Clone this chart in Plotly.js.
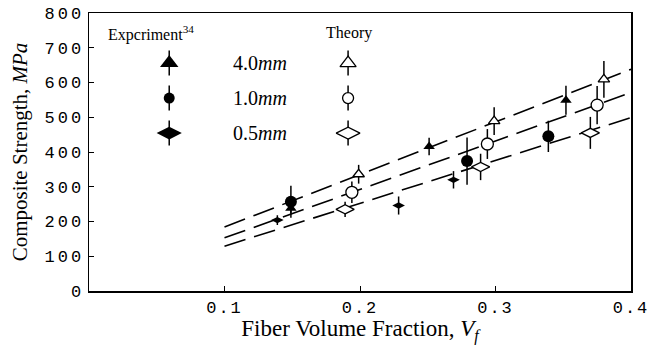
<!DOCTYPE html>
<html>
<head>
<meta charset="utf-8">
<script src="https://cdn.plot.ly/plotly-3.0.1.min.js"></script>
<style>html,body{margin:0;padding:0;background:#fff;}#chart{width:649px;height:345px;}</style>
</head>
<body>
<div id="chart"></div>
<script>
// ---- data ----
const xTickVals = [0.1, 0.2, 0.3, 0.4];
const xTickText = ['0.1', '0.2', '0.3', '0.4'];
const yTickVals = [0, 100, 200, 300, 400, 500, 600, 700, 800];

// theory curves (dashed), endpoints
const curveX = [0.1, 0.4];
const curve40 = [184, 638];
const curve10 = [153, 571];
const curve05 = [129, 499];

// experiment (filled)
const exp40X = [0.149, 0.251, 0.352];
const exp40Y = [238, 416, 549];
const exp40Err = [14, 25, 42];
const exp10X = [0.149, 0.279, 0.339];
const exp10Y = [257, 374, 445];
const exp10Err = [46, 68, 45];
const exp05X = [0.139, 0.2285, 0.269];
const exp05Y = [204, 246, 320];
const exp05Err = [14, 26, 25];

// theory points (open)
const th40X = [0.199, 0.299, 0.380];
const th40Y = [336, 489, 609];
const th40Err = [27, 40, 53];
const th10X = [0.194, 0.294, 0.375];
const th10Y = [284, 423, 535];
const th10Err = [31, 43, 55];
const th05X = [0.189, 0.289, 0.370];
const th05Y = [235, 357, 455];
const th05Err = [22, 38, 46];

const legendLabels = ['4.0<i>mm</i>', '1.0<i>mm</i>', '0.5<i>mm</i>'];

// ---- drawing ----
const black = '#000';
const dash = '22px,9px';
function curve(y) {
  return {x: curveX, y: y, mode: 'lines', type: 'scatter', showlegend: false,
    line: {color: black, width: 1.6, dash: dash}, hoverinfo: 'skip'};
}
function pts(x, y, err, symbol, size, open) {
  return {x: x, y: y, mode: 'markers', type: 'scatter', showlegend: false,
    error_y: {type: 'data', array: err, visible: true, color: black, thickness: 1.5, width: 0},
    marker: {symbol: symbol, size: size, color: open ? '#fff' : black,
      line: {color: black, width: open ? 1.3 : 0}}};
}

// legend placement (paper fractions of the plot area)
const legExpX = 0.148, legThX = 0.478, legTextX = 0.262;
const legRowY = [0.82, 0.694, 0.568];
function legPt(x, y, symbol, size, open, err) {
  return {x: [x], y: [y], xaxis: 'x2', yaxis: 'y2', mode: 'markers', type: 'scatter',
    showlegend: false, hoverinfo: 'skip',
    error_y: {type: 'data', array: [err], visible: true, color: black, thickness: 1.5, width: 0},
    marker: {symbol: symbol, size: size, color: open ? '#fff' : black,
      line: {color: black, width: open ? 1.3 : 0}}};
}

const data = [
  curve(curve40), curve(curve10), curve(curve05),
  pts(exp40X, exp40Y, exp40Err, 'triangle-up', 10, false),
  pts(exp10X, exp10Y, exp10Err, 'circle', 12, false),
  pts(exp05X, exp05Y, exp05Err, 'diamond-wide', 9, false),
  pts(th40X, th40Y, th40Err, 'triangle-up', 10, true),
  pts(th10X, th10Y, th10Err, 'circle', 12, true),
  pts(th05X, th05Y, th05Err, 'diamond-wide', 13, true),
  legPt(legExpX, legRowY[0], 'triangle-up', 16, false, 0.045),
  legPt(legExpX, legRowY[1], 'circle', 11, false, 0.045),
  legPt(legExpX, legRowY[2], 'diamond-wide', 18, false, 0.045),
  legPt(legThX, legRowY[0], 'triangle-up', 14, true, 0.045),
  legPt(legThX, legRowY[1], 'circle', 11, true, 0.045),
  legPt(legThX, legRowY[2], 'diamond-wide', 17, true, 0.045)
];

const tickFont = {family: 'Liberation Mono, Courier New, monospace', size: 17, color: black};
const serif = 'Liberation Serif, Times New Roman, serif';

const annotations = [
  {text: 'Expcriment<sup>34</sup>', x: 0.114, y: 0.928},
  {text: 'Theory', x: 0.48, y: 0.928}
].map(a => Object.assign({xref: 'paper', yref: 'paper', showarrow: false,
  xanchor: 'center', yanchor: 'middle',
  font: {family: serif, size: 16, color: black}}, a));
legendLabels.forEach((t, i) => annotations.push({text: t, xref: 'paper', yref: 'paper',
  x: legTextX, y: legRowY[i], xanchor: 'left', yanchor: 'middle', showarrow: false,
  font: {family: serif, size: 20, color: black}}));

const layout = {
  width: 649, height: 345,
  margin: {l: 89, r: 18, t: 13, b: 54},
  paper_bgcolor: '#fff', plot_bgcolor: '#fff',
  showlegend: false,
  xaxis: {range: [0, 0.4], tickvals: xTickVals, ticktext: xTickText,
    showline: true, linecolor: black, linewidth: 1.5, mirror: true,
    ticks: 'inside', ticklen: 5, tickcolor: black, showgrid: false, zeroline: false,
    tickfont: tickFont,
    title: {text: 'Fiber Volume Fraction, <i>V</i><sub><i>f</i></sub>',
      font: {family: serif, size: 23, color: black}, standoff: 1}},
  yaxis: {range: [0, 800], tickvals: yTickVals,
    showline: true, linecolor: black, linewidth: 1.5, mirror: true,
    ticks: 'inside', ticklen: 5, tickcolor: black, showgrid: false, zeroline: false,
    tickfont: tickFont,
    title: {text: 'Composite Strength, <i>MPa</i>',
      font: {family: serif, size: 21, color: black}, standoff: 20}},
  xaxis2: {range: [0, 1], overlaying: 'x', visible: false, fixedrange: true},
  yaxis2: {range: [0, 1], overlaying: 'y', visible: false, fixedrange: true},
  annotations: annotations
};

Plotly.newPlot('chart', data, layout, {staticPlot: true, displayModeBar: false}).then(() => {
  document.querySelectorAll('#chart .ytick text').forEach(t => { t.style.letterSpacing = '3px'; });
  document.querySelectorAll('#chart .xtick text').forEach(t => { t.style.letterSpacing = '2px'; });
});
</script>
</body>
</html>
